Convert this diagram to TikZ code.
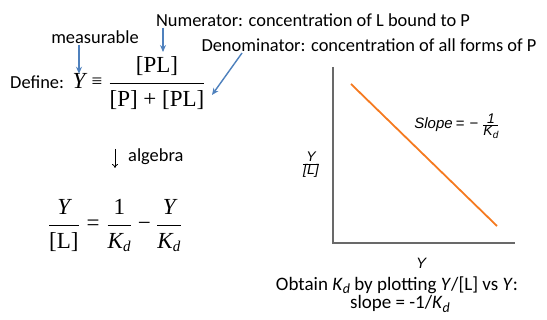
\documentclass[tikz,border=0pt]{standalone}
\usepackage{fontspec}
\setmainfont{Carlito}
\newfontfamily\tms{Liberation Serif}
\newfontfamily\hlv{Liberation Sans}
\usetikzlibrary{arrows.meta}
\definecolor{arrblue}{RGB}{79,129,189}
\definecolor{plotorange}{RGB}{245,122,32}
\definecolor{axisgray}{RGB}{105,105,105}
\newcommand\mY{\mbox{\tms\itshape Y}}
\newcommand\mT[1]{\mbox{\tms #1}}
\newcommand\mKd{\mbox{\tms\itshape K}_{\mbox{\tms\itshape\fontsize{15}{15}\selectfont d}}}
\newcommand\cKd{\textit{K}\raisebox{-0.35ex}{\fontsize{14}{14}\selectfont\itshape d}}
\newcommand\hsm[1]{\mbox{\hlv\itshape\fontsize{14}{15}\selectfont #1}}
\newcommand\hKd{\mbox{\hlv\itshape\fontsize{14}{14}\selectfont K\raisebox{-0.4ex}{\fontsize{10}{10}\selectfont d}}}
\begin{document}
\begin{tikzpicture}[x=1pt,y=-1pt,
  txt/.style={inner sep=1pt,font=\fontsize{18.4}{21}\selectfont},
  btxt/.style={inner sep=1pt,font=\fontsize{19}{22}\selectfont},
  mth/.style={inner sep=1pt,font=\fontsize{23}{27}\selectfont},
  plt/.style={inner sep=1pt,font=\hlv\itshape\fontsize{15}{17}\selectfont},
  barr/.style={draw=arrblue,line width=1.4pt,-{Stealth[length=7pt,width=6pt]}},
  karr/.style={draw=black,line width=0.8pt,-{To[length=4pt,width=6pt]}},
  axisline/.style={draw=axisgray,line width=1.2pt},
  plotline/.style={draw=plotorange,line width=1.8pt}]
\useasboundingbox (0,0) rectangle (547,320);
% top labels
\node[txt] (num) at (313,20) {Numerator: concentration of L bound to P};
\node[txt] (meas) at (95,37) {measurable};
\node[txt] (den) at (369,45) {Denominator: concentration of all forms of P};
% definition
\node[txt,anchor=base west] (def) at (9,89) {Define:};
\node[mth,anchor=base] (yv) at (79,89) {\mY};
\node[inner sep=1pt,anchor=base,font=\tms\fontsize{19}{21}\selectfont] (eqv) at (97,88) {\char"2261};
\node[mth,anchor=base] (fr) at (157,89) {$\displaystyle\frac{\mT{[PL]}}{\mT{[P] + [PL]}}$};
\coordinate (numtip) at (163,52);
\coordinate (dentail) at (242,53);
\coordinate (dentip) at (212,95);
\draw[barr] (yv.north |- meas.south) -- ([yshift=-1pt]yv.north);
\draw[barr] (numtip |- num.south) -- (numtip);
\draw[barr] (dentail) -- (dentip);
% algebra
\coordinate (alg1) at (115,149);
\coordinate (alg2) at (115,168);
\draw[karr] (alg1) -- (alg2);
\node[txt,anchor=west] (alg) at (127,157) {algebra};
% Scatchard equation
\node[mth,anchor=base] (eq) at (115,231) {$\displaystyle\frac{\mY}{\mT{[L]}} \mathrel{\mT{=}} \frac{\mT{1}}{\mKd} \mathbin{\mT{\char"2212}} \frac{\mY}{\mKd}$};
% plot
\coordinate (ytop) at (333,67);
\coordinate (O) at (333,243);
\coordinate (xend) at (515,243);
\draw[axisline] (ytop) -- (O) -- (xend);
\coordinate (l1) at (351,84);
\coordinate (l2) at (497,226);
\draw[plotline] (l1) -- (l2);
\node[plt] (slope) at (457,126) {Slope\hspace{3pt}{\upshape =}\hspace{5pt}{\upshape\char"2212}\hspace{4pt}$\frac{\hsm{1}}{\hKd}$};
\node[plt] (ylab) at (311,165) {$\frac{\hsm{Y}}{\hsm{[L]}}$};
\node[plt] (xlab) at (421,263) {Y};
\node[btxt] (obt) at (397,285) {Obtain \cKd{} by plotting \textit{Y}/[L] vs \textit{Y}:};
\node[btxt] (slp) at (400,304) {slope = -1/\cKd};
\end{tikzpicture}
\end{document}
